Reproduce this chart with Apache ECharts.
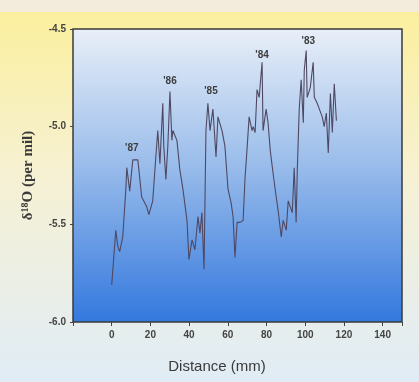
<!DOCTYPE html>
<html>
<head>
<meta charset="utf-8">
<script src="https://cdn.jsdelivr.net/npm/echarts@6/dist/echarts.min.js"></script>
<style>
  html, body { margin: 0; padding: 0; background: #f3ecdc; }
  #chart { width: 419px; height: 382px; }
</style>
</head>
<body>
<div id="chart"></div>
<script>
// distance along the sample (mm)
var distance = [0, 2.1, 3.1, 4.1, 5.7, 7.3, 7.8, 9.3, 10.9, 13.5, 15.5, 18.1, 19.2, 21.2, 22.8, 23.8,
    24.9, 26.4, 26.9, 28.0, 29.0, 30.1, 31.1, 31.6, 33.7, 35.2, 36.8, 38.9, 39.9, 41.5, 43.0, 44.6,
    45.6, 46.6, 47.7, 48.7, 49.7, 50.8, 52.3, 53.9, 54.9, 57.0, 58.5, 60.1, 61.7, 62.7, 63.7, 64.8,
    66.3, 67.9, 68.9, 69.9, 71.0, 72.5, 73.1, 74.1, 75.1, 76.2, 77.7, 78.2, 79.8, 80.8, 81.9, 83.4,
    85.0, 86.0, 87.6, 88.6, 90.2, 91.2, 93.3, 94.3, 95.3, 95.9, 96.9, 97.9, 99.0, 99.5, 100.5, 101.0,
    102.6, 104.1, 104.7, 106.2, 107.3, 108.8, 109.8, 110.9, 111.9, 113.0, 114.0, 115.0, 116.1];
// delta 18O (per mil)
var d18O = [-5.81, -5.53, -5.61, -5.64, -5.565, -5.32, -5.21, -5.33, -5.17, -5.17, -5.36, -5.41, -5.45, -5.38, -5.155, -5.02,
    -5.19, -4.88, -5.10, -5.27, -5.10, -4.82, -5.07, -5.02, -5.07, -5.22, -5.32, -5.48, -5.68, -5.58, -5.63, -5.46,
    -5.545, -5.44, -5.73, -5.02, -4.88, -5.02, -4.91, -5.155, -4.95, -5.02, -5.10, -5.32, -5.39, -5.46, -5.67, -5.49,
    -5.49, -5.48, -5.26, -5.12, -4.95, -5.02, -5.00, -5.03, -4.81, -4.85, -4.67, -5.02, -4.91, -4.98, -5.12, -5.24,
    -5.36, -5.43, -5.565, -5.48, -5.53, -5.38, -5.44, -5.21, -5.49, -5.22, -4.91, -4.76, -4.98, -4.71, -4.61, -4.85,
    -4.80, -4.67, -4.85, -4.88, -4.91, -4.95, -5.00, -4.93, -5.135, -4.83, -5.03, -4.78, -4.97];

// year labels and where they sit
var yearNames = ["'87", "'86", "'85", "'84", "'83"];
var yearX = [10.4, 30.1, 51.3, 77.7, 101.6];
var yearY = [-5.11, -4.77, -4.82, -4.635, -4.565];

var points = [];
for (var i = 0; i < distance.length; i++) {
    points.push([distance[i], d18O[i]]);
}
var marks = [];
for (var j = 0; j < yearNames.length; j++) {
    marks.push({ name: yearNames[j], coord: [yearX[j], yearY[j]] });
}

var myChart = echarts.init(document.getElementById('chart'));
var option = {
    backgroundColor: 'transparent',
    animation: false,
    graphic: [
        {
            type: 'rect', z: -10, silent: true,
            shape: { x: 0, y: 12, width: 419, height: 370 },
            style: {
                fill: new echarts.graphic.LinearGradient(0, 0, 0, 1, [
                    { offset: 0, color: '#fbef9e' },
                    { offset: 0.45, color: '#f6f1d4' },
                    { offset: 1, color: '#e0ecf6' }
                ])
            }
        }
    ],
    grid: {
        left: 73, top: 29, width: 329, height: 293,
        show: true,
        borderColor: '#3a3a3a',
        borderWidth: 1.5,
        backgroundColor: new echarts.graphic.LinearGradient(0, 0, 0, 1, [
            { offset: 0, color: '#e9eff8' },
            { offset: 0.45, color: '#9cbeeb' },
            { offset: 1, color: '#3378de' }
        ])
    },
    xAxis: {
        type: 'value',
        min: -20, max: 150, interval: 20,
        name: 'Distance (mm)',
        nameLocation: 'middle',
        nameGap: 37,
        nameTextStyle: { fontFamily: 'Liberation Sans', fontSize: 15, color: '#3a3a3a', padding: [0, 41, 0, 0] },
        axisLine: { show: false, onZero: false },
        axisTick: { show: true, length: 4, lineStyle: { color: '#444' } },
        splitLine: { show: false },
        axisLabel: {
            margin: 8,
            fontFamily: 'Liberation Sans', fontSize: 10, fontWeight: 'bold', color: '#444',
            formatter: function (v) { return v < 0 || v > 140 ? '' : v; }
        }
    },
    yAxis: {
        type: 'value',
        min: -6.0, max: -4.5, interval: 0.5,
        name: '{a|δ}{s|18}{a|O (per mil)}',
        nameLocation: 'middle',
        nameRotate: 90,
        nameGap: 36,
        nameTextStyle: {
            rich: {
                a: { fontFamily: 'Liberation Serif', fontSize: 15, fontWeight: 'bold', color: '#3a3a3a' },
                s: { fontFamily: 'Liberation Serif', fontSize: 10, fontWeight: 'bold', color: '#3a3a3a', padding: [0, 0, 7, 0] }
            }
        },
        axisLine: { show: false, onZero: false },
        axisTick: { show: true, length: 3, lineStyle: { color: '#444' } },
        splitLine: { show: false },
        axisLabel: {
            margin: 7,
            fontFamily: 'Liberation Sans', fontSize: 10, fontWeight: 'bold', color: '#444',
            formatter: function (v) { return v.toFixed(1); }
        }
    },
    series: [
        {
            type: 'line',
            data: points,
            showSymbol: false,
            lineStyle: { color: '#4f4862', width: 1.1 },
            markPoint: {
                symbol: 'circle',
                symbolSize: 1,
                itemStyle: { color: 'rgba(0,0,0,0)' },
                label: {
                    show: true, position: 'inside',
                    formatter: '{b}',
                    fontFamily: 'Liberation Sans', fontSize: 10, fontWeight: 'bold', color: '#3d3d3d'
                },
                data: marks
            }
        }
    ]
};
myChart.setOption(option);
</script>
</body>
</html>
